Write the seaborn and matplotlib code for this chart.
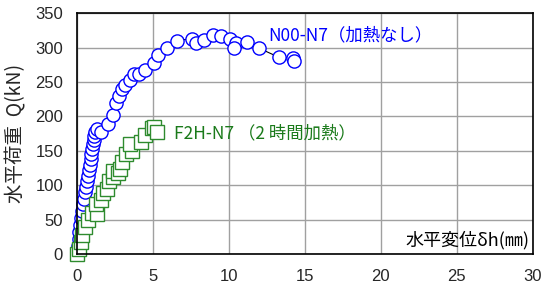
import matplotlib
matplotlib.use("Agg")
import pandas as pd
import seaborn as sns
import matplotlib.pyplot as plt

# N00-N7 (no heating)
n00_x = [0.0, 0.05, 0.1, 0.15, 0.2, 0.28, 0.33, 0.4, 0.45, 0.52, 0.6, 0.65, 0.72, 0.78,
         0.85, 0.9, 0.95, 1.0, 1.05, 1.1, 1.15, 1.2, 1.3, 1.6, 2.05, 2.35, 2.6, 2.78, 2.93,
         3.15, 3.47, 3.73, 4.08, 4.45, 5.1, 5.32, 5.9, 6.57, 7.6, 7.83, 8.37, 8.96, 9.46,
         10.1, 10.45, 10.35, 11.2, 11.98, 13.27, 14.2, 14.3]
n00_q = [0, 12, 22, 32, 42, 52, 62, 72, 80, 90, 98, 106, 114, 122,
         130, 138, 146, 153, 160, 166, 172, 177, 182, 177, 189, 202, 219, 229, 240,
         246, 253, 262, 262, 267, 277, 289, 299, 310, 313, 307, 311, 318, 317,
         313, 307, 299, 308, 299, 286, 285, 280]

# F2H-N7 (2h heating)
f2h_x = [0.0, 0.1, 0.25, 0.3, 0.55, 0.7, 1.0, 1.3, 1.25, 1.6, 1.7, 1.95, 2.1, 2.35, 2.4,
         2.7, 2.85, 2.95, 3.2, 3.6, 3.5, 4.2, 4.5, 4.95, 5.05, 5.25]
f2h_q = [0, 8, 18, 28, 40, 50, 60, 58, 72, 78, 88, 95, 106, 112, 120,
         118, 124, 134, 145, 150, 160, 163, 173, 183, 185, 177]

x_ticks = [0, 5, 10, 15, 20, 25, 30]
y_ticks = [0, 50, 100, 150, 200, 250, 300, 350]

sns.set_style("white")
plt.rcParams['font.family'] = ['Noto Sans CJK JP', 'DejaVu Sans']

fig = plt.figure(figsize=(5.46, 2.91), dpi=100)
ax = fig.add_axes([0.141, 0.127, 0.835, 0.828])

df_n = pd.DataFrame({'x': n00_x, 'q': n00_q})
df_f = pd.DataFrame({'x': f2h_x, 'q': f2h_q})

sns.lineplot(data=df_n, x='x', y='q', ax=ax, sort=False, estimator=None,
             color='black', linewidth=0.8, marker='o', markersize=9.5,
             markerfacecolor='white', markeredgecolor='#0000ff', markeredgewidth=1.0,
             clip_on=False)
sns.lineplot(data=df_f, x='x', y='q', ax=ax, sort=False, estimator=None,
             color='black', linewidth=0.8, marker='s', markersize=9.5,
             markerfacecolor='white', markeredgecolor='#2e8b2e', markeredgewidth=1.0,
             clip_on=False)

ax.set_xlim(0, 30)
ax.set_ylim(0, 350)
ax.set_xticks(x_ticks)
ax.set_yticks(y_ticks)
ax.grid(True, color='#a0a0a0', linewidth=1.0)
ax.set_axisbelow(True)
for s in ax.spines.values():
    s.set_color('black')
    s.set_linewidth(1.2)
ax.tick_params(axis='y', length=0, labelsize=12, pad=10)
ax.tick_params(axis='x', length=0, labelsize=12, pad=11)
for lab in ax.get_xticklabels() + ax.get_yticklabels():
    lab.set_fontfamily('Liberation Sans')
ax.set_xlabel('')
ax.set_ylabel('水平荷重  Q(kN)', fontsize=14, labelpad=6)

ax.text(12.6, 317, 'N00-N7（加熱なし）', color='#0000ff', fontsize=12.5, va='center')
ax.text(6.4, 176, 'F2H-N7 （2 時間加熱）', color='#1a7a1a', fontsize=12.5, va='center')
ax.text(29.8, 7, '水平変位δh(㎜)', color='black', fontsize=13, ha='right', va='bottom')

fig.savefig('out.png', dpi=100)
